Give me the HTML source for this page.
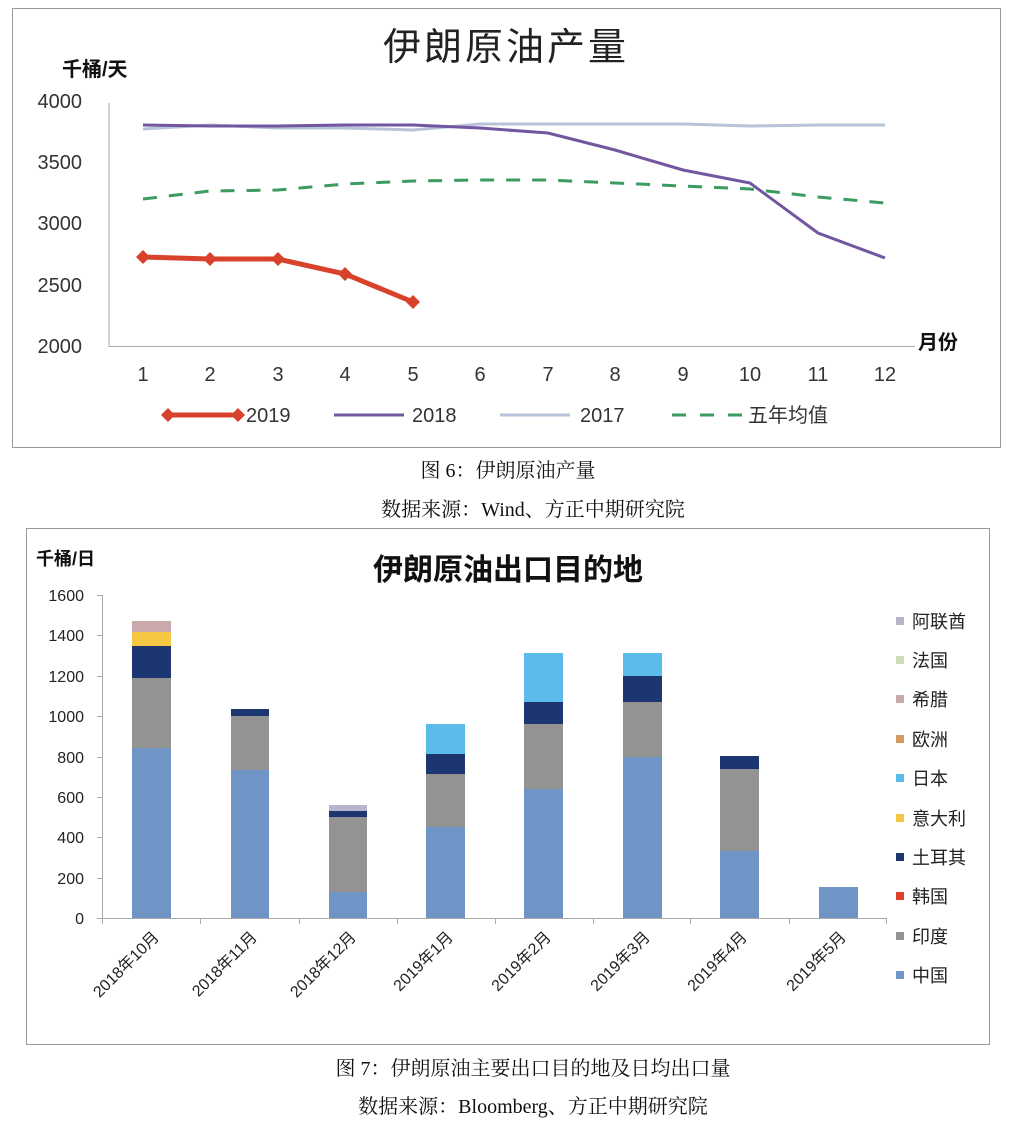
<!DOCTYPE html>
<html><head><meta charset="utf-8"><style>
body{margin:0;background:#fff;width:1016px;height:1130px;overflow:hidden}
svg{display:block}
text{font-family:"Liberation Sans","Noto Sans CJK SC",sans-serif}
.cap{font-family:"Liberation Serif","Noto Serif CJK SC",serif;font-size:20px;fill:#111}
</style></head><body>
<svg width="1016" height="1130" viewBox="0 0 1016 1130">
<rect x="12.5" y="8.5" width="988" height="439" fill="#fff" stroke="#999"/>
<text x="506" y="60" font-size="38" text-anchor="middle" fill="#222" font-family="Liberation Serif,Noto Serif CJK SC,serif" letter-spacing="3">伊朗原油产量</text>
<text x="62" y="76" font-size="20" font-weight="bold" fill="#111">千桶/天</text>
<g font-size="20" fill="#333" text-anchor="end">
<text x="82" y="108">4000</text><text x="82" y="169">3500</text><text x="82" y="230">3000</text><text x="82" y="292">2500</text><text x="82" y="353">2000</text>
</g>
<line x1="109" y1="103" x2="109" y2="347" stroke="#aaa"/>
<line x1="109" y1="346.5" x2="915" y2="346.5" stroke="#aaa"/>
<g font-size="20" fill="#333" text-anchor="middle">
<text x="143" y="381">1</text><text x="210" y="381">2</text><text x="278" y="381">3</text><text x="345" y="381">4</text><text x="413" y="381">5</text><text x="480" y="381">6</text><text x="548" y="381">7</text><text x="615" y="381">8</text><text x="683" y="381">9</text><text x="750" y="381">10</text><text x="818" y="381">11</text><text x="885" y="381">12</text>
</g>
<text x="918" y="349" font-size="20" font-weight="bold" fill="#111">月份</text>
<polyline fill="none" stroke="#b7c3d8" stroke-width="3" points="143,129 210,125 278,128 345,128 413,130 480,124 548,124 615,124 683,124 750,126 818,125 885,125"/>
<polyline fill="none" stroke="#7256a0" stroke-width="3" points="143,125 210,126 278,126 345,125 413,125 480,128 548,133 615,150 683,170 750,183 818,233 885,258"/>
<polyline fill="none" stroke="#3c9b60" stroke-width="3" stroke-dasharray="14,12" points="143,199 210,191 278,190 345,184 413,181 480,180 548,180 615,183 683,186 750,189 818,197 885,203"/>
<polyline fill="none" stroke="#d8412b" stroke-width="5" points="143,257 210,259 278,259 345,274 413,302"/>
<g fill="#d8412b">
<path d="M143,250l7,7l-7,7l-7,-7z"/><path d="M210,252l7,7l-7,7l-7,-7z"/><path d="M278,252l7,7l-7,7l-7,-7z"/><path d="M345,267l7,7l-7,7l-7,-7z"/><path d="M413,295l7,7l-7,7l-7,-7z"/>
</g>
<line x1="168" y1="415" x2="238" y2="415" stroke="#d8412b" stroke-width="5"/>
<path d="M168,408l7,7l-7,7l-7,-7z M238,408l7,7l-7,7l-7,-7z" fill="#d8412b"/>
<text x="246" y="422" font-size="20" fill="#333">2019</text>
<line x1="334" y1="415" x2="404" y2="415" stroke="#7256a0" stroke-width="3"/>
<text x="412" y="422" font-size="20" fill="#333">2018</text>
<line x1="500" y1="415" x2="570" y2="415" stroke="#b7c3d8" stroke-width="3"/>
<text x="580" y="422" font-size="20" fill="#333">2017</text>
<line x1="672" y1="415" x2="742" y2="415" stroke="#3c9b60" stroke-width="3" stroke-dasharray="14,14"/>
<text x="748" y="422" font-size="20" fill="#333">五年均值</text>
<text x="508" y="477" class="cap" text-anchor="middle">图 6：伊朗原油产量</text>
<text x="533" y="516" class="cap" text-anchor="middle">数据来源：Wind、方正中期研究院</text>

<rect x="26.5" y="528.5" width="963" height="516" fill="#fff" stroke="#999"/>
<text x="508" y="580" font-size="30" font-weight="bold" text-anchor="middle" fill="#111">伊朗原油出口目的地</text>
<text x="36" y="565" font-size="18" font-weight="bold" fill="#111">千桶/日</text>
<g font-size="16" fill="#222" text-anchor="end">
<text x="84" y="601">1600</text><text x="84" y="641">1400</text><text x="84" y="682">1200</text><text x="84" y="722">1000</text><text x="84" y="763">800</text><text x="84" y="803">600</text><text x="84" y="843">400</text><text x="84" y="884">200</text><text x="84" y="924">0</text>
</g>
<line x1="102.5" y1="595" x2="102.5" y2="918" stroke="#aaa"/>
<g stroke="#aaa"><line x1="97" y1="595.5" x2="102" y2="595.5"/><line x1="97" y1="635.5" x2="102" y2="635.5"/><line x1="97" y1="676.5" x2="102" y2="676.5"/><line x1="97" y1="716.5" x2="102" y2="716.5"/><line x1="97" y1="757.5" x2="102" y2="757.5"/><line x1="97" y1="797.5" x2="102" y2="797.5"/><line x1="97" y1="837.5" x2="102" y2="837.5"/><line x1="97" y1="878.5" x2="102" y2="878.5"/></g>
<g>
<rect x="132" y="748" width="39" height="170" fill="#6f95c6"/><rect x="132" y="678" width="39" height="70" fill="#939393"/><rect x="132" y="646" width="39" height="32" fill="#1c3670"/><rect x="132" y="632" width="39" height="14" fill="#f4c842"/><rect x="132" y="621" width="39" height="11" fill="#c9a9ac"/>
<rect x="231" y="770" width="38" height="148" fill="#6f95c6"/><rect x="231" y="716" width="38" height="54" fill="#939393"/><rect x="231" y="709" width="38" height="7" fill="#1c3670"/>
<rect x="329" y="892" width="38" height="26" fill="#6f95c6"/><rect x="329" y="817" width="38" height="75" fill="#939393"/><rect x="329" y="811" width="38" height="6" fill="#1c3670"/><rect x="329" y="805" width="38" height="6" fill="#b6b5cc"/>
<rect x="426" y="827" width="39" height="91" fill="#6f95c6"/><rect x="426" y="774" width="39" height="53" fill="#939393"/><rect x="426" y="754" width="39" height="20" fill="#1c3670"/><rect x="426" y="724" width="39" height="30" fill="#5bbcec"/>
<rect x="524" y="789" width="39" height="129" fill="#6f95c6"/><rect x="524" y="724" width="39" height="65" fill="#939393"/><rect x="524" y="702" width="39" height="22" fill="#1c3670"/><rect x="524" y="653" width="39" height="49" fill="#5bbcec"/>
<rect x="623" y="757" width="39" height="161" fill="#6f95c6"/><rect x="623" y="702" width="39" height="55" fill="#939393"/><rect x="623" y="676" width="39" height="26" fill="#1c3670"/><rect x="623" y="653" width="39" height="23" fill="#5bbcec"/>
<rect x="720" y="851" width="39" height="67" fill="#6f95c6"/><rect x="720" y="769" width="39" height="82" fill="#939393"/><rect x="720" y="756" width="39" height="13" fill="#1c3670"/>
<rect x="819" y="887" width="39" height="31" fill="#6f95c6"/>
</g>
<line x1="97" y1="918.5" x2="887" y2="918.5" stroke="#aaa"/>
<g stroke="#aaa"><line x1="102.5" y1="918" x2="102.5" y2="924"/><line x1="200.5" y1="918" x2="200.5" y2="924"/><line x1="299.5" y1="918" x2="299.5" y2="924"/><line x1="397.5" y1="918" x2="397.5" y2="924"/><line x1="495.5" y1="918" x2="495.5" y2="924"/><line x1="593.5" y1="918" x2="593.5" y2="924"/><line x1="690.5" y1="918" x2="690.5" y2="924"/><line x1="789.5" y1="918" x2="789.5" y2="924"/><line x1="886.5" y1="918" x2="886.5" y2="924"/></g>
<g font-size="16" fill="#222" text-anchor="end">
<text transform="translate(160,938) rotate(-45)">2018年10月</text>
<text transform="translate(258,938) rotate(-45)">2018年11月</text>
<text transform="translate(357,938) rotate(-45)">2018年12月</text>
<text transform="translate(454,938) rotate(-45)">2019年1月</text>
<text transform="translate(552,938) rotate(-45)">2019年2月</text>
<text transform="translate(651,938) rotate(-45)">2019年3月</text>
<text transform="translate(748,938) rotate(-45)">2019年4月</text>
<text transform="translate(847,938) rotate(-45)">2019年5月</text>
</g>
<g font-size="18" fill="#222">
<rect x="896" y="617" width="8" height="8" fill="#b6b5cc"/><text x="912" y="628">阿联酋</text>
<rect x="896" y="656" width="8" height="8" fill="#cfdcb8"/><text x="912" y="667">法国</text>
<rect x="896" y="695" width="8" height="8" fill="#c9a9ac"/><text x="912" y="706">希腊</text>
<rect x="896" y="735" width="8" height="8" fill="#d39b63"/><text x="912" y="746">欧洲</text>
<rect x="896" y="774" width="8" height="8" fill="#5bbcec"/><text x="912" y="785">日本</text>
<rect x="896" y="814" width="8" height="8" fill="#f4c842"/><text x="912" y="825">意大利</text>
<rect x="896" y="853" width="8" height="8" fill="#1c3670"/><text x="912" y="864">土耳其</text>
<rect x="896" y="892" width="8" height="8" fill="#e0402a"/><text x="912" y="903">韩国</text>
<rect x="896" y="932" width="8" height="8" fill="#939393"/><text x="912" y="943">印度</text>
<rect x="896" y="971" width="8" height="8" fill="#6f95c6"/><text x="912" y="982">中国</text>
</g>
<text x="533" y="1075" class="cap" text-anchor="middle">图 7：伊朗原油主要出口目的地及日均出口量</text>
<text x="533" y="1113" class="cap" text-anchor="middle">数据来源：Bloomberg、方正中期研究院</text>
</svg>
</body></html>
